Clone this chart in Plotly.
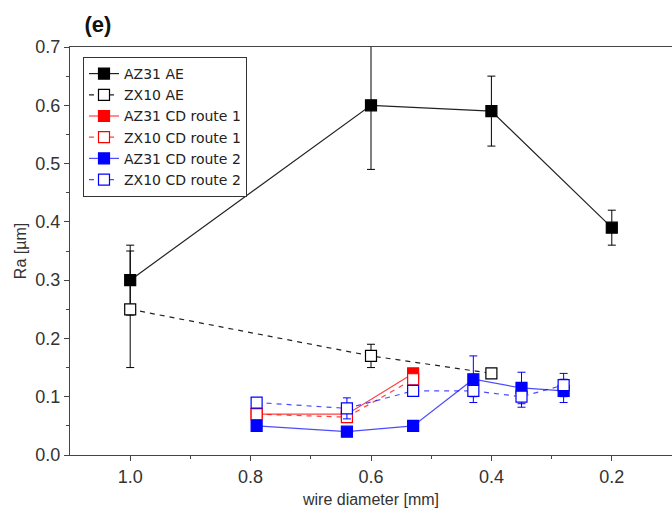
import plotly.graph_objects as go

# ---- data ----
ae_x_az = [1.0, 0.6, 0.4, 0.2]
ae_y_az = [0.30, 0.60, 0.59, 0.39]
ae_e_az = [0.06, 0.11, 0.06, 0.03]

ae_x_zx = [1.0, 0.6, 0.4]
ae_y_zx = [0.25, 0.17, 0.14]
ae_e_zx = [0.10, 0.02, 0.005]

cd1_x = [0.79, 0.64, 0.53]
cd1_y_az = [0.07, 0.07, 0.14]
cd1_e_az = [0.005, 0.005, 0.005]
cd1_y_zx = [0.07, 0.065, 0.13]
cd1_e_zx = [0.005, 0.005, 0.005]

cd2_x = [0.79, 0.64, 0.53, 0.43, 0.35, 0.28]
cd2_y_az = [0.05, 0.04, 0.05, 0.13, 0.115, 0.11]
cd2_e_az = [0.005, 0.005, 0.005, 0.04, 0.027, 0.02]
cd2_y_zx = [0.09, 0.08, 0.11, 0.11, 0.10, 0.12]
cd2_e_zx = [0.005, 0.018, 0.005, 0.01, 0.018, 0.02]

names = ["AZ31 AE", "ZX10 AE", "AZ31 CD route 1", "ZX10 CD route 1",
         "AZ31 CD route 2", "ZX10 CD route 2"]

series = [
    (ae_x_az, ae_y_az, ae_e_az, "#000000", True),
    (ae_x_zx, ae_y_zx, ae_e_zx, "#000000", False),
    (cd1_x, cd1_y_az, cd1_e_az, "#ff0000", True),
    (cd1_x, cd1_y_zx, cd1_e_zx, "#ff0000", False),
    (cd2_x, cd2_y_az, cd2_e_az, "#0000ff", True),
    (cd2_x, cd2_y_zx, cd2_e_zx, "#0000ff", False),
]
line_colors = {"#000000": "#222222", "#ff0000": "rgba(255,0,0,0.75)", "#0000ff": "rgba(0,0,255,0.7)"}

FONT = "Liberation Sans, Arial, sans-serif"
fig = go.Figure()
for name, (x, y, e, c, filled) in zip(names, series):
    fig.add_trace(go.Scatter(
        x=x, y=y, name=name, mode="lines+markers",
        line=dict(color=line_colors[c], width=1.2, dash="solid" if filled else "5px,5px"),
        marker=dict(symbol="square", size=11,
                    color=c if filled else "white",
                    line=dict(color=c, width=1.2)),
        error_y=dict(type="data", array=e, visible=True, color=c, thickness=1, width=4),
    ))

fig.update_layout(
    width=672, height=513,
    margin=dict(l=70, r=0, t=47, b=58),
    paper_bgcolor="white", plot_bgcolor="white",
    font=dict(family=FONT, size=18, color="#333333"),
    title=dict(text="<b>(e)</b>", x=98/672, xanchor="center", y=1-24/513, yanchor="middle",
               font=dict(family=FONT, size=22, color="#111111")),
    showlegend=True,
    legend=dict(x=13/602, y=1-10/408, xanchor="left", yanchor="top",
                bordercolor="#333333", borderwidth=1, bgcolor="white",
                font=dict(family="DejaVu Sans, sans-serif", size=14, color="#222222"),
                tracegroupgap=0, itemwidth=30),
)
fig.update_xaxes(
    range=[1.1, 0.1], tickvals=[1.0, 0.8, 0.6, 0.4, 0.2], ticktext=["1.0", "0.8", "0.6", "0.4", "0.2"],
    ticks="outside", ticklen=5, tickcolor="#444444", showline=True, linecolor="#444444",
    linewidth=1.2, mirror=True, showgrid=False, zeroline=False,
    tickfont=dict(size=18, color="#333333"),
    minor=dict(ticks="outside", tickvals=[0.9, 0.7, 0.5, 0.3], ticklen=3, tickcolor="#444444"),
    title=dict(text="wire diameter [mm]", standoff=8, font=dict(size=16, color="#333333")),
)
fig.update_yaxes(
    range=[0, 0.7], tickvals=[0, 0.1, 0.2, 0.3, 0.4, 0.5, 0.6, 0.7],
    ticktext=["0.0", "0.1", "0.2", "0.3", "0.4", "0.5", "0.6", "0.7"],
    ticks="outside", ticklen=5, tickcolor="#444444", showline=True, linecolor="#444444",
    linewidth=1.2, mirror=False, showgrid=False, zeroline=False,
    tickfont=dict(size=18, color="#333333"),
    minor=dict(ticks="outside", tickvals=[0.05, 0.15, 0.25, 0.35, 0.45, 0.55, 0.65], ticklen=3, tickcolor="#444444"),
    title=dict(text="Ra [µm]", standoff=4, font=dict(size=16, color="#333333")),
)

fig.write_html("out.html")
